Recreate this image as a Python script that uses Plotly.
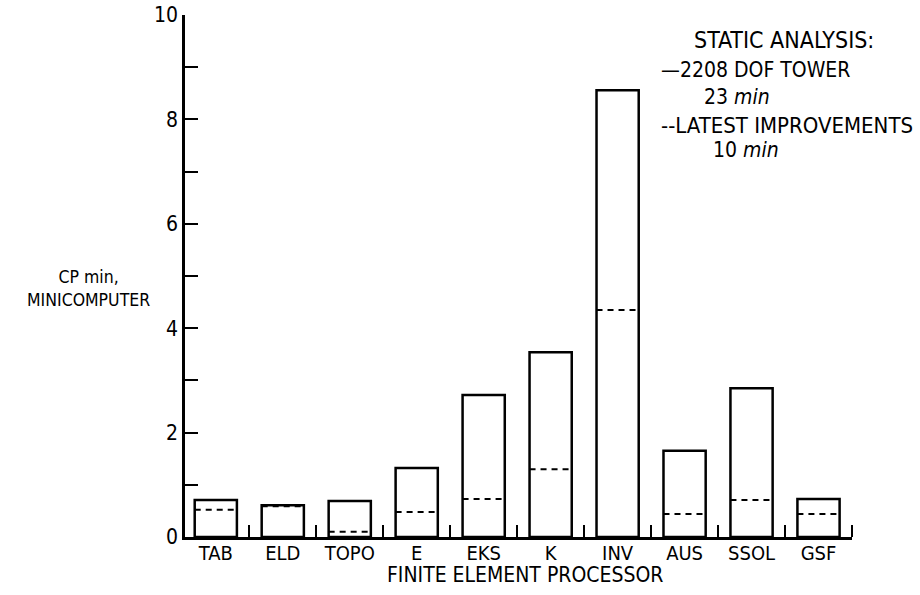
import plotly.graph_objects as go

categories = ["TAB", "ELD", "TOPO", "E", "EKS", "K", "INV", "AUS", "SSOL", "GSF"]
tower_2208_dof = [0.71, 0.61, 0.69, 1.32, 2.72, 3.54, 8.56, 1.65, 2.85, 0.73]
latest_improvements = [0.52, 0.59, 0.10, 0.48, 0.73, 1.30, 4.35, 0.44, 0.71, 0.44]
y_tick_values = [0, 2, 4, 6, 8, 10]

FONT = "Liberation Sans Narrow, DejaVu Sans Condensed, Arial Narrow, sans-serif"
BAR_W = 0.63

idx = list(range(len(categories)))

fig = go.Figure()
fig.add_trace(go.Bar(
    x=idx, y=tower_2208_dof, width=BAR_W,
    marker=dict(color="white", line=dict(color="black", width=2.5)),
    showlegend=False, hoverinfo="skip",
))

dx, dy = [], []
for i, v in zip(idx, latest_improvements):
    dx += [i - BAR_W / 2, i + BAR_W / 2, None]
    dy += [v, v, None]
fig.add_trace(go.Scatter(
    x=dx, y=dy, mode="lines",
    line=dict(color="black", width=2, dash="6px,5px"),
    showlegend=False, hoverinfo="skip",
))

W, H = 920, 595
L, R, T, B = 185, 852.5, 15, 537


def px(x):
    return (x - L) / (R - L)


def py(y):
    return (B - y) / (B - T)


def note(text, x, y, size, xanchor="left"):
    return dict(text=text, x=px(x), y=py(y), xref="paper", yref="paper",
                showarrow=False, xanchor=xanchor, yanchor="middle", align="center",
                font=dict(size=size))


fig.update_layout(
    width=W, height=H,
    margin=dict(l=L, r=W - R, t=T, b=H - B, autoexpand=False),
    paper_bgcolor="white", plot_bgcolor="white",
    font=dict(family=FONT, size=20, color="black"),
    xaxis=dict(
        range=[-0.46, 9.5], tickvals=idx, ticktext=categories,
        ticks="", showgrid=False, zeroline=False, automargin=False,
        showline=True, linecolor="black", linewidth=2.5,
        tickfont=dict(size=20), ticklabelstandoff=-4,
        minor=dict(tick0=0.5, dtick=1, ticks="inside", ticklen=12,
                   tickwidth=2, tickcolor="black", showgrid=False),
    ),
    yaxis=dict(
        range=[0, 10], tickvals=y_tick_values, automargin=False,
        ticks="inside", ticklen=13, tickwidth=2, tickcolor="black",
        showgrid=False, zeroline=False, ticklabeloverflow="allow",
        showline=True, linecolor="black", linewidth=2.5,
        tickfont=dict(size=21),
        minor=dict(dtick=1, ticks="inside", ticklen=13, tickwidth=2,
                   tickcolor="black", showgrid=False),
    ),
    annotations=[
        note("FINITE ELEMENT PROCESSOR", 525, 575, 21, "center"),
        note("CP min,<br>MINICOMPUTER", 88, 288, 17.5, "center"),
        note("STATIC ANALYSIS:", 692, 40, 23),
        note("—2208 DOF TOWER", 659, 70, 21),
        note("23 <i>min</i>", 702, 97, 21),
        note("--LATEST IMPROVEMENTS", 659, 125, 22),
        note("10 <i>min</i>", 711, 150, 21),
    ],
)

fig.write_html(
    "out.html",
    config={"displayModeBar": False},
    post_script="document.body.style.margin='0';document.body.style.overflow='hidden';",
)
